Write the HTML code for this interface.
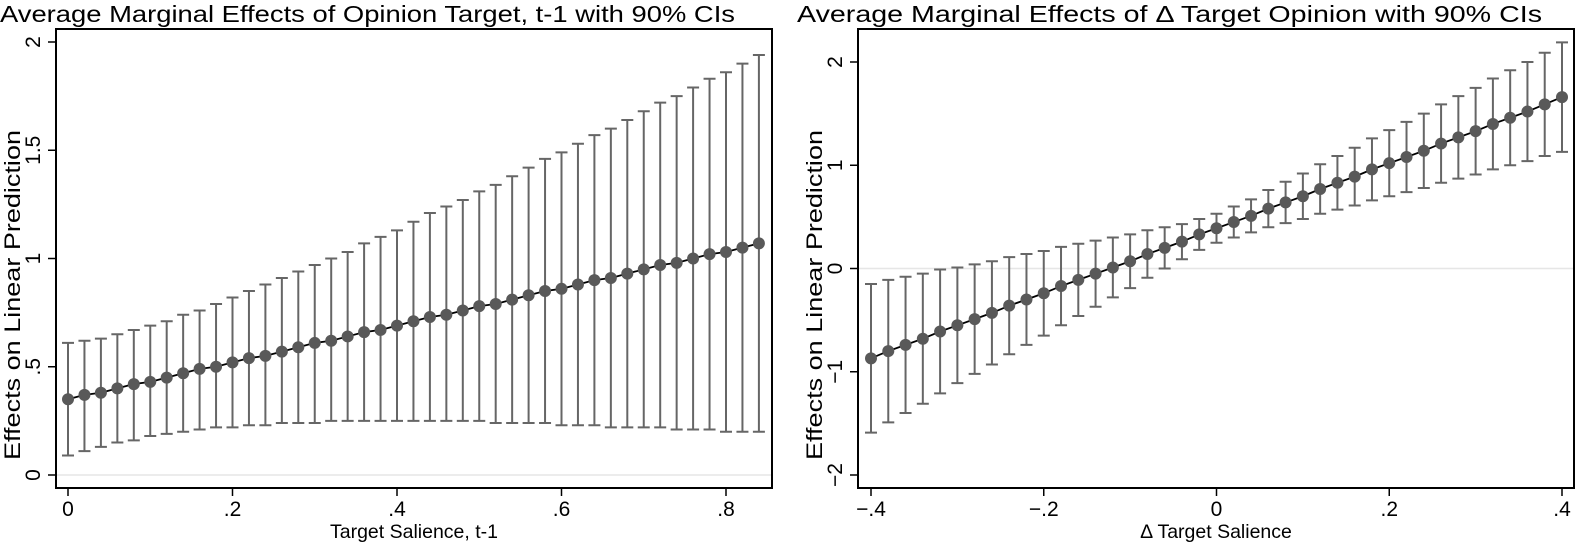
<!DOCTYPE html>
<html><head><meta charset="utf-8"><style>
html,body{margin:0;padding:0;background:#fff;}
svg{display:block;font-family:"Liberation Sans",Arial,sans-serif;}
</style></head><body>
<svg id="chart" width="1575" height="545" viewBox="0 0 1575 545" xmlns="http://www.w3.org/2000/svg">
<text x="0" y="22" font-size="23" textLength="735" lengthAdjust="spacingAndGlyphs" fill="#000">Average Marginal Effects of Opinion Target, t-1 with 90% CIs</text>
<text x="797" y="22" font-size="23" textLength="745" lengthAdjust="spacingAndGlyphs" fill="#000">Average Marginal Effects of Δ Target Opinion with 90% CIs</text>
<g id="left"></g>
<g id="right"></g>
</svg>
<script>
// Left chart data
const leftX = [0,.02,.04,.06,.08,.10,.12,.14,.16,.18,.20,.22,.24,.26,.28,.30,.32,.34,.36,.38,.40,.42,.44,.46,.48,.50,.52,.54,.56,.58,.60,.62,.64,.66,.68,.70,.72,.74,.76,.78,.80,.82,.84];
const leftEst = [0.35,0.37,0.38,0.40,0.42,0.43,0.45,0.47,0.49,0.50,0.52,0.54,0.55,0.57,0.59,0.61,0.62,0.64,0.66,0.67,0.69,0.71,0.73,0.74,0.76,0.78,0.79,0.81,0.83,0.85,0.86,0.88,0.90,0.91,0.93,0.95,0.97,0.98,1.00,1.02,1.03,1.05,1.07];
const leftLo = [0.09,0.11,0.13,0.15,0.16,0.18,0.19,0.20,0.21,0.22,0.22,0.23,0.23,0.24,0.24,0.24,0.25,0.25,0.25,0.25,0.25,0.25,0.25,0.25,0.25,0.25,0.24,0.24,0.24,0.24,0.23,0.23,0.23,0.22,0.22,0.22,0.22,0.21,0.21,0.21,0.20,0.20,0.20];
const leftHi = [0.61,0.62,0.63,0.65,0.67,0.69,0.71,0.74,0.76,0.79,0.82,0.85,0.88,0.91,0.94,0.97,1.00,1.03,1.07,1.10,1.13,1.17,1.21,1.24,1.27,1.31,1.34,1.38,1.42,1.46,1.49,1.53,1.57,1.60,1.64,1.68,1.72,1.75,1.79,1.83,1.86,1.90,1.94];
const leftXTicks = [0,.2,.4,.6,.8];
const leftXTickLabels = ["0",".2",".4",".6",".8"];
const leftYTicks = [0,.5,1,1.5,2];
const leftYTickLabels = ["0",".5","1","1.5","2"];
// Right chart data
const rightX = [-.40,-.38,-.36,-.34,-.32,-.30,-.28,-.26,-.24,-.22,-.20,-.18,-.16,-.14,-.12,-.10,-.08,-.06,-.04,-.02,0,.02,.04,.06,.08,.10,.12,.14,.16,.18,.20,.22,.24,.26,.28,.30,.32,.34,.36,.38,.40];
const rightEst = [-0.87,-0.80,-0.74,-0.68,-0.61,-0.55,-0.49,-0.43,-0.36,-0.30,-0.24,-0.17,-0.11,-0.05,0.01,0.07,0.14,0.20,0.26,0.33,0.39,0.45,0.51,0.58,0.64,0.70,0.77,0.83,0.89,0.96,1.02,1.08,1.14,1.21,1.27,1.33,1.40,1.46,1.52,1.59,1.66];
const rightLo = [-1.59,-1.49,-1.40,-1.31,-1.21,-1.11,-1.02,-0.93,-0.83,-0.74,-0.65,-0.55,-0.46,-0.37,-0.28,-0.19,-0.09,0.00,0.09,0.18,0.25,0.30,0.35,0.40,0.44,0.48,0.53,0.57,0.61,0.66,0.70,0.74,0.78,0.83,0.87,0.91,0.96,1.00,1.04,1.09,1.13];
const rightHi = [-0.15,-0.11,-0.08,-0.05,-0.01,0.01,0.04,0.07,0.11,0.14,0.17,0.21,0.24,0.27,0.30,0.33,0.37,0.40,0.43,0.48,0.53,0.60,0.67,0.76,0.84,0.92,1.01,1.09,1.17,1.26,1.34,1.42,1.50,1.59,1.67,1.75,1.84,1.92,2.00,2.09,2.19];
const rightXTicks = [-.4,-.2,0,.2,.4];
const rightXTickLabels = ["\u2212.4","\u2212.2","0",".2",".4"];
const rightYTicks = [-2,-1,0,1,2];
const rightYTickLabels = ["\u22122","\u22121","0","1","2"];

const NS="http://www.w3.org/2000/svg";
function mk(parent,tag,attrs){const e=document.createElementNS(NS,tag);for(const k in attrs)e.setAttribute(k,attrs[k]);parent.appendChild(e);return e;}

function draw(g,cfg){
  const sx=v=>cfg.x0px+(v-cfg.x0)*(cfg.x1px-cfg.x0px)/(cfg.x1-cfg.x0);
  const sy=v=>cfg.y0px+(v-cfg.y0)*(cfg.y1px-cfg.y0px)/(cfg.y1-cfg.y0);
  const F=cfg.frame;
  const zl=mk(g,'line',{x1:F.l+1,x2:F.r-1,y1:sy(0),y2:sy(0),stroke:'#e6e6e6','stroke-width':1.5});
  
  
  const fr=mk(g,'rect',{x:F.l,y:F.t,width:F.r-F.l,height:F.b-F.t,fill:'none',stroke:'#000','stroke-width':2});
  
  
  cfg.yt.forEach((v,i)=>{
    const y=sy(v);
    const t=mk(g,'line',{x1:F.l-8,x2:F.l,y1:y,y2:y,stroke:'#000','stroke-width':1.5});
    
    
    const tx=mk(g,'text',{x:0,y:0,'font-size':21,'text-anchor':'middle',transform:`translate(${F.l-16},${y}) rotate(-90)`});
    tx.textContent=cfg.ytl[i];
    
    
  });
  cfg.xt.forEach((v,i)=>{
    const x=sx(v);
    const t=mk(g,'line',{x1:x,x2:x,y1:F.b,y2:F.b+8,stroke:'#000','stroke-width':1.5});
    
    
    const tx=mk(g,'text',{x:x,y:F.b+28,'font-size':21,'text-anchor':'middle'});
    tx.textContent=cfg.xtl[i];
    
    
  });
  const xt=mk(g,'text',{x:(F.l+F.r)/2,y:538,'font-size':19.5,'text-anchor':'middle'});
  xt.textContent=cfg.xTitle;
  
  
  const yt=mk(g,'text',{x:0,y:0,'font-size':22,'text-anchor':'middle',textLength:330,lengthAdjust:'spacingAndGlyphs',transform:`translate(${F.l-36},295) rotate(-90)`});
  yt.textContent='Effects on Linear Prediction';
  
  
  cfg.xs.forEach((v,i)=>{
    const x=sx(v),yl=sy(cfg.lo[i]),yh=sy(cfg.hi[i]);
    const p=mk(g,'path',{d:`M${x},${yl}V${yh}M${x-6},${yl}H${x+6}M${x-6},${yh}H${x+6}`,stroke:'#666','stroke-width':2,fill:'none'});
    
    
  });
  const ln=mk(g,'polyline',{points:cfg.xs.map((v,i)=>sx(v)+','+sy(cfg.est[i])).join(' '),fill:'none',stroke:'#000','stroke-width':1.8});
  
  
  cfg.xs.forEach((v,i)=>{
    const c=mk(g,'circle',{cx:sx(v),cy:sy(cfg.est[i]),r:6,fill:'#595959'});
    
    
  });
}
draw(document.getElementById('left'),{x0:0,x1:.8,x0px:68,x1px:726,y0:0,y1:2,y0px:475,y1px:42,
  frame:{l:56,r:772,t:29,b:488},xs:leftX,est:leftEst,lo:leftLo,hi:leftHi,
  xt:leftXTicks,xtl:leftXTickLabels,yt:leftYTicks,ytl:leftYTickLabels,xTitle:'Target Salience, t-1'});
draw(document.getElementById('right'),{x0:-.4,x1:.4,x0px:871,x1px:1562,y0:-2,y1:2,y0px:475,y1px:62,
  frame:{l:858,r:1574,t:29,b:488},xs:rightX,est:rightEst,lo:rightLo,hi:rightHi,
  xt:rightXTicks,xtl:rightXTickLabels,yt:rightYTicks,ytl:rightYTickLabels,xTitle:'Δ Target Salience'});
</script>
</body></html>
